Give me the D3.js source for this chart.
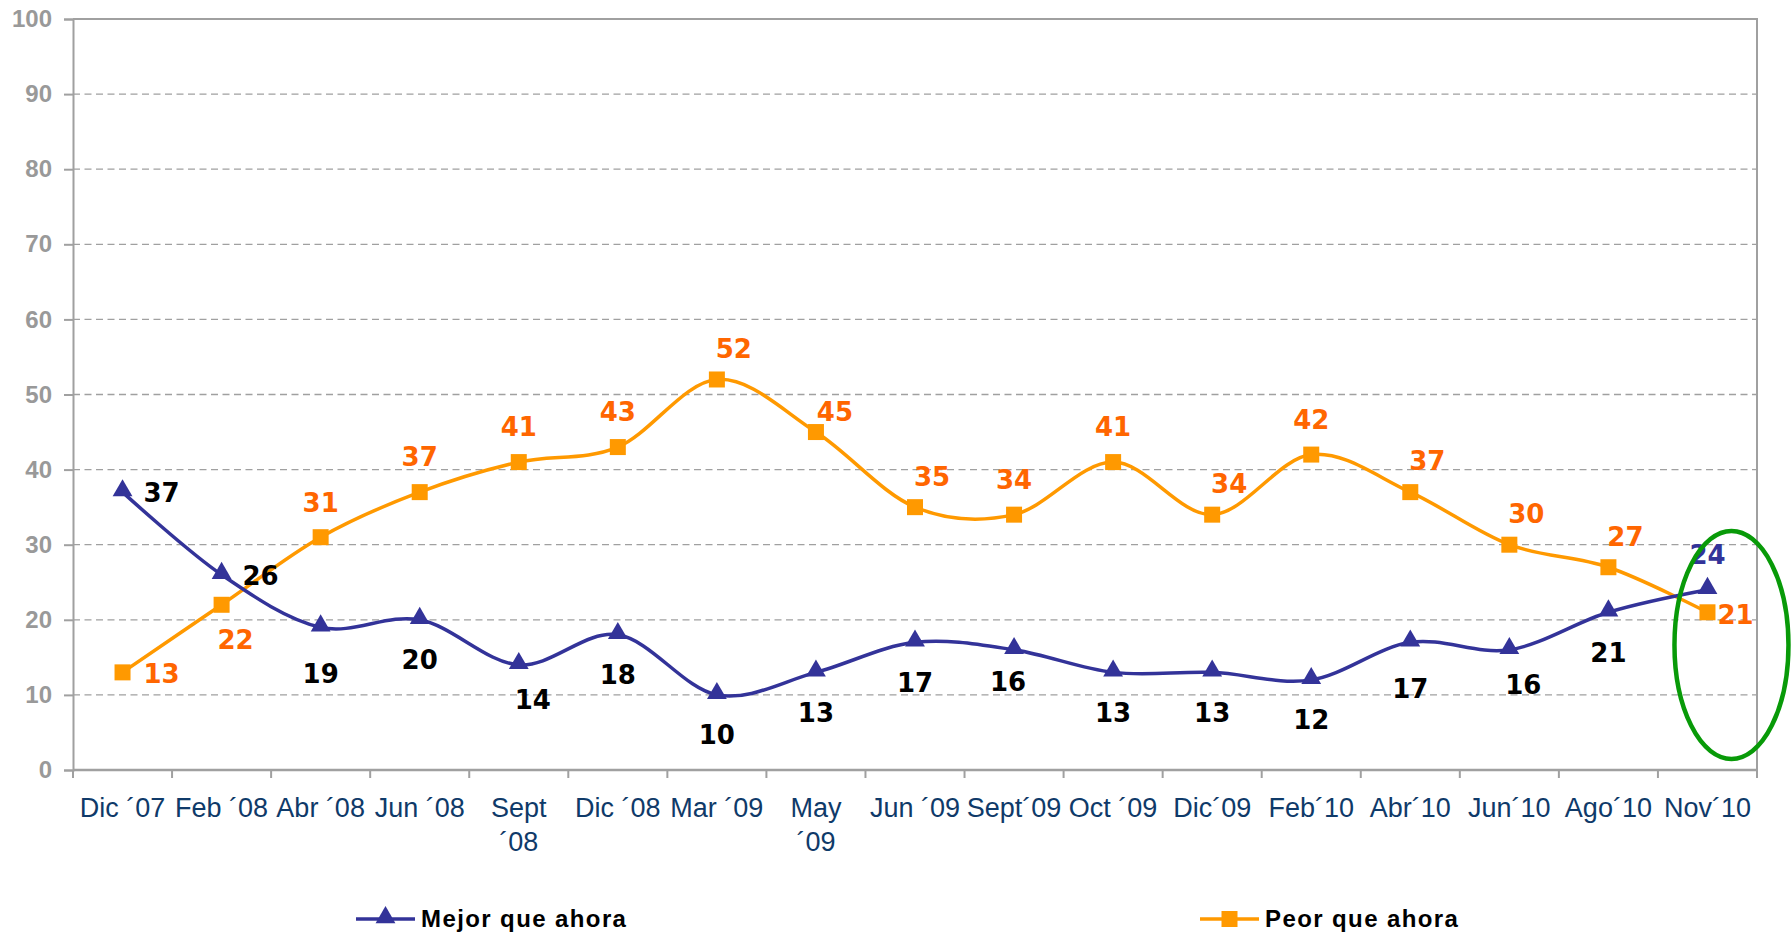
<!DOCTYPE html>
<html>
<head>
<meta charset="utf-8">
<script src="https://cdn.jsdelivr.net/npm/d3@7"></script>
<style>
  html, body { margin: 0; padding: 0; background: #fff; }
  svg { display: block; }
</style>
</head>
<body>
<div id="chart"></div>
<script>
// Data
var categories = ['Dic ´07', 'Feb ´08', 'Abr ´08', 'Jun ´08', 'Sept\n´08', 'Dic ´08', 'Mar ´09', 'May\n´09',
  'Jun ´09', 'Sept´09', 'Oct ´09', 'Dic´09', 'Feb´10', 'Abr´10', 'Jun´10', 'Ago´10', 'Nov´10']
var mejor = [37, 26, 19, 20, 14, 18, 10, 13, 17, 16, 13, 13, 12, 17, 16, 21, 24]
var peor = [13, 22, 31, 37, 41, 43, 52, 45, 35, 34, 41, 34, 42, 37, 30, 27, 21]
var yTicks = [0, 10, 20, 30, 40, 50, 60, 70, 80, 90, 100]
var seriesNames = ['Mejor que ahora', 'Peor que ahora']

// label placement codes (where each value label sits around its marker)
var mejorPlace = ['r', 'r', 'bf', 'b', 'br', 'b', 'b', 'b', 'b', 'bn', 'b', 'b', 'b', 'bf', 'br', 'b', 'a']
var peorPlace = ['r', 'br', 'a', 'a', 'a', 'a', 'ar', 'ur', 'ar', 'a', 'a', 'ar', 'a', 'ar', 'ar', 'ar', 'rn']
var offsets = {
  a: [0, -35], ar: [17, -31], ur: [19, -20], r: [39, 1], rn: [28, 2],
  b: [0, 40], bf: [0, 46], bn: [-6, 32], br: [14, 35]
}

// Dimensions
var width = 1791
var height = 933
var margin = { top: 19, right: 34, bottom: 163, left: 73 }
var chartWidth = width - margin.left - margin.right
var chartHeight = height - margin.top - margin.bottom

var navy = '#333399'
var orange = '#FF9900'
var labelOrange = '#FF6600'
var gridGray = '#A0A0A0'

var svg = d3.select('#chart').append('svg')
  .attr('width', width)
  .attr('height', height)

var g = svg.append('g')
  .attr('transform', 'translate(' + margin.left + ',' + margin.top + ')')

// Scales
var xScale = d3.scaleBand().domain(d3.range(categories.length)).range([0, chartWidth]).padding(0)
var yScale = d3.scaleLinear().domain([0, 100]).range([chartHeight, 0])
var cx = function (i) { return xScale(i) + xScale.bandwidth() / 2 }

// Gridlines
g.append('g').selectAll('line')
  .data(yTicks.filter(function (d) { return d > 0 && d < 100 }))
  .enter().append('line')
  .attr('x1', 0).attr('x2', chartWidth)
  .attr('y1', function (d) { return yScale(d) })
  .attr('y2', function (d) { return yScale(d) })
  .attr('stroke', gridGray)
  .attr('stroke-width', 1.3)
  .attr('stroke-dasharray', '7,4.5')

// Frame (top + right)
g.append('path')
  .attr('d', 'M0,' + yScale(100) + 'H' + chartWidth + 'V' + yScale(0))
  .attr('fill', 'none')
  .attr('stroke', gridGray)
  .attr('stroke-width', 2)

// Y axis
var yAxis = g.append('g')
  .call(d3.axisLeft(yScale).tickValues(yTicks).tickSize(9).tickPadding(12))
yAxis.select('.domain').attr('stroke', gridGray).attr('stroke-width', 2)
yAxis.selectAll('.tick line').attr('stroke', gridGray).attr('stroke-width', 2)
yAxis.selectAll('text')
  .attr('fill', '#999999')
  .style('font-family', '"Liberation Sans", Arial, sans-serif')
  .style('font-weight', 'bold')
  .style('font-size', '24px')

// X axis
var xAxis = g.append('g')
  .attr('transform', 'translate(0,' + chartHeight + ')')
xAxis.append('line')
  .attr('x1', 0).attr('x2', chartWidth)
  .attr('stroke', gridGray).attr('stroke-width', 2.5)
var boundaries = d3.range(categories.length + 1).map(function (i) {
  return i < categories.length ? xScale(i) : xScale(i - 1) + xScale.bandwidth()
})
xAxis.selectAll('.xtick')
  .data(boundaries)
  .enter().append('line')
  .attr('class', 'xtick')
  .attr('x1', function (d) { return d }).attr('x2', function (d) { return d })
  .attr('y1', 0).attr('y2', 8)
  .attr('stroke', gridGray).attr('stroke-width', 2)

var xLabels = xAxis.selectAll('.xlabel')
  .data(categories)
  .enter().append('text')
  .attr('class', 'xlabel')
  .attr('text-anchor', 'middle')
  .attr('fill', '#0F3A69')
  .style('font-family', '"Liberation Sans", Arial, sans-serif')
  .style('font-size', '27px')
xLabels.each(function (d, i) {
  var t = d3.select(this)
  d.split('\n').forEach(function (line, k) {
    t.append('tspan')
      .attr('x', cx(i))
      .attr('y', 47 + k * 34)
      .text(line)
  })
})

// Lines
var line = function (values) {
  return d3.line()
    .x(function (d, i) { return cx(i) })
    .y(function (d) { return yScale(d) })
    .curve(d3.curveCatmullRom.alpha(0))(values)
}

g.append('path')
  .attr('d', line(peor))
  .attr('fill', 'none')
  .attr('stroke', orange)
  .attr('stroke-width', 3.5)

g.append('path')
  .attr('d', line(mejor))
  .attr('fill', 'none')
  .attr('stroke', navy)
  .attr('stroke-width', 3.5)

// Markers
var triangle = d3.symbol().type(d3.symbolTriangle).size(170)
g.selectAll('.tri')
  .data(mejor)
  .enter().append('path')
  .attr('class', 'tri')
  .attr('d', triangle)
  .attr('transform', function (d, i) { return 'translate(' + cx(i) + ',' + (yScale(d) - 1.5) + ')' })
  .attr('fill', navy)

g.selectAll('.sq')
  .data(peor)
  .enter().append('rect')
  .attr('class', 'sq')
  .attr('x', function (d, i) { return cx(i) - 8 })
  .attr('y', function (d) { return yScale(d) - 8 })
  .attr('width', 16).attr('height', 16)
  .attr('fill', orange)

// Value labels
function addLabels(values, place, colorFn) {
  g.append('g').selectAll('text')
    .data(values)
    .enter().append('text')
    .attr('x', function (d, i) { return cx(i) + offsets[place[i]][0] })
    .attr('y', function (d, i) { return yScale(d) + offsets[place[i]][1] })
    .attr('dy', '0.36em')
    .attr('text-anchor', 'middle')
    .attr('fill', colorFn)
    .style('font-family', '"DejaVu Sans", Verdana, sans-serif')
    .style('font-weight', 'bold')
    .style('font-size', '26px')
    .text(function (d) { return d })
}
addLabels(mejor, mejorPlace, function (d, i) { return i === mejor.length - 1 ? navy : '#000' })
addLabels(peor, peorPlace, function () { return labelOrange })

// Highlight ellipse around the last survey
svg.append('ellipse')
  .attr('cx', margin.left + cx(categories.length - 1) + 24)
  .attr('cy', 645)
  .attr('rx', 57)
  .attr('ry', 114)
  .attr('fill', 'none')
  .attr('stroke', '#089A08')
  .attr('stroke-width', 4.5)

// Legend
var legend = svg.append('g').attr('transform', 'translate(0,919)')
var legendItems = [
  { name: seriesNames[0], x: 356, color: navy, marker: 'tri' },
  { name: seriesNames[1], x: 1200, color: orange, marker: 'sq' }
]
legendItems.forEach(function (item) {
  var lg = legend.append('g').attr('transform', 'translate(' + item.x + ',0)')
  lg.append('line')
    .attr('x1', 0).attr('x2', 59)
    .attr('stroke', item.color).attr('stroke-width', 3.5)
  if (item.marker === 'tri') {
    lg.append('path').attr('d', triangle).attr('transform', 'translate(29.5,-1.5)').attr('fill', item.color)
  } else {
    lg.append('rect').attr('x', 21.5).attr('y', -8).attr('width', 16).attr('height', 16).attr('fill', item.color)
  }
  lg.append('text')
    .attr('x', 65)
    .attr('y', 8)
    .attr('fill', '#000')
    .style('font-family', '"Liberation Sans", Arial, sans-serif')
    .style('font-weight', 'bold')
    .style('font-size', '24px')
    .style('letter-spacing', '1.4px')
    .text(item.name)
})
</script>
</body>
</html>
